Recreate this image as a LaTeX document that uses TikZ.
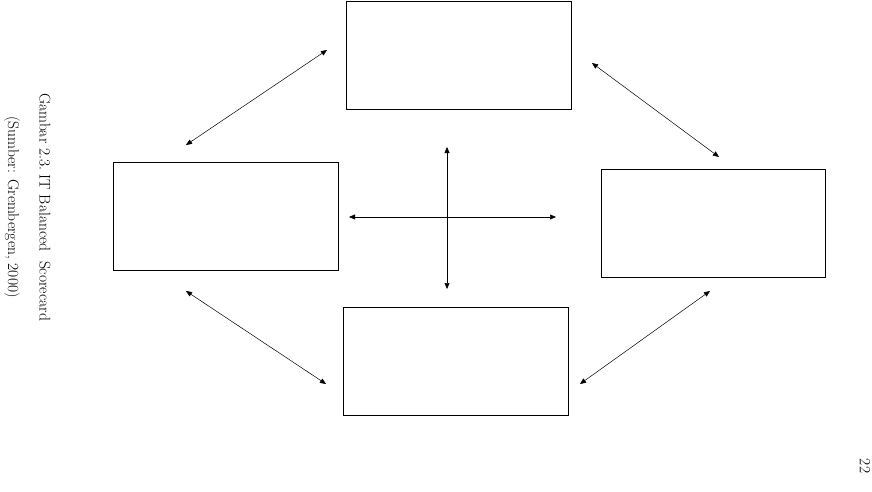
\documentclass[tikz,border=0pt]{standalone}
\usetikzlibrary{arrows.meta}

\begin{document}
\begin{tikzpicture}[x=1pt, y=-1pt, every node/.style={font=\fontsize{15.5}{18}\selectfont, inner sep=0pt},
    box/.style={draw, line width=0.6pt},
    link/.style={{Triangle[length=6pt,width=5pt]}-{Triangle[length=6pt,width=5pt]}, line width=0.5pt}]
    \useasboundingbox (0,0) rectangle (872,492);
    \draw[box] (346,1) rectangle (571,109);
    \draw[box] (113,162) rectangle (338,270);
    \draw[box] (601,169) rectangle (825,277);
    \draw[box] (343,307) rectangle (568,415);

    \coordinate (tl1) at (186,145); \coordinate (tl2) at (327,50);
    \coordinate (tr1) at (592,63);  \coordinate (tr2) at (719,157);
    \coordinate (bl1) at (186,291); \coordinate (bl2) at (326,384);
    \coordinate (br1) at (580,384); \coordinate (br2) at (710,291);
    \coordinate (vt) at (447,147);  \coordinate (vb) at (447,289);
    \coordinate (hl) at (349,217);  \coordinate (hr) at (556,217);

    \draw[link] (tl1) -- (tl2);
    \draw[link] (tr1) -- (tr2);
    \draw[link] (bl1) -- (bl2);
    \draw[link] (br1) -- (br2);
    \draw[link] (vt) -- (vb);
    \draw[link] (hl) -- (hr);

    \node (title) [rotate=-90] at (45,207) {Gambar 2.3.\ IT Balanced\ \ Scorecard};
    \node (source) [rotate=-90] at (12,207) {(Sumber: Grembergen, 2000)};
    \node (page) [rotate=-90] at (865,466) {22};
\end{tikzpicture}
\end{document}
